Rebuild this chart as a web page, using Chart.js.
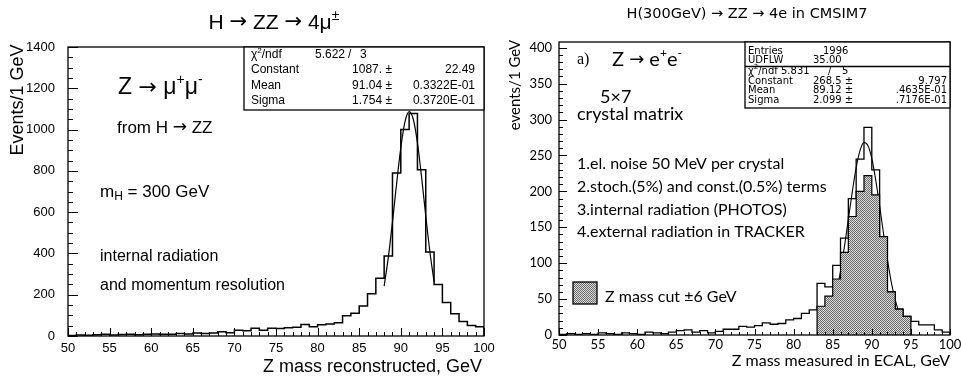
<!DOCTYPE html>
<html>
<head>
<meta charset="utf-8">
<script src="https://cdn.jsdelivr.net/npm/chart.js@4.4.1/dist/chart.umd.min.js"></script>
<style>
  body { margin: 0; background: #fff; }
  #wrap { position: relative; width: 961px; height: 378px; }
  #muChart { position: absolute; left: 0; top: 0; }
  #eChart { position: absolute; left: 490px; top: 0; }
</style>
</head>
<body>
<div id="wrap">
  <canvas id="muChart" width="500" height="378"></canvas>
  <canvas id="eChart" width="471" height="378"></canvas>
</div>
<script>
// ---- left: Z -> mu+mu- from H -> ZZ, 1 GeV bins from 50 to 100
const muBinStart = 50;
const muCounts = [
  3, 5, 4, 6, 8, 5, 7, 8, 6, 9,
  10, 8, 9, 12, 10, 14, 12, 15, 20, 16,
  28, 25, 37, 28, 38, 36, 40, 42, 56, 45,
  55, 58, 64, 98, 110, 145, 205, 280, 388, 790,
  1000, 1078, 805, 407, 250, 162, 108, 70, 51, 45
];
// gaussian fit (Constant 1087, Mean 91.04, Sigma 1.754)
const muFitX = [88, 88.5, 89, 89.5, 90, 90.5, 91, 91.5, 92, 92.5, 93, 93.5, 94];
const muFitY = [242, 381, 553, 739, 912, 1037, 1087, 1050, 936, 769, 582, 407, 262];
const muXTicks = [50, 55, 60, 65, 70, 75, 80, 85, 90, 95, 100];
const muYTicks = [0, 200, 400, 600, 800, 1000, 1200, 1400];

// ---- right: Z -> e+e- in ECAL
const eBinStart = 50;
const eCounts = [
  1, 2, 1, 2, 1, 3, 2, 1, 3, 2,
  1, 4, 3, 2, 4, 6, 7, 4, 6, 3,
  5, 8, 8, 12, 11, 13, 17, 15, 16, 21,
  23, 30, 35, 72, 67, 97, 135, 190, 245, 289,
  230, 137, 60, 36, 26, 19, 14, 14, 7, 4
];
// events passing the Z mass cut (+-6 GeV), bins 83..94
const eCutStart = 83;
const eCutCounts = [40, 54, 78, 115, 165, 200, 222, 195, 137, 60, 36, 26];
const eFitX = [85.5, 86, 86.5, 87, 87.5, 88, 88.5, 89, 89.5, 90, 90.5, 91, 91.5, 92, 92.5, 93, 93.5];
const eFitY = [61, 89, 123, 161, 199, 233, 257, 268, 264, 246, 216, 180, 141, 105, 73, 49, 30];
const eXTicks = [50, 55, 60, 65, 70, 75, 80, 85, 90, 95, 100];
const eYTicks = [0, 50, 100, 150, 200, 250, 300, 350, 400];

// histogram outline as step points (value holds until next bin edge)
function histPoints(start, counts) {
  const pts = [{ x: start, y: 0 }];
  counts.forEach((c, i) => pts.push({ x: start + i, y: c }));
  pts.push({ x: start + counts.length, y: counts[counts.length - 1] });
  pts.push({ x: start + counts.length, y: 0 });
  return pts;
}

function stipple(ctx) {
  const c = document.createElement('canvas');
  c.width = 4; c.height = 4;
  const g = c.getContext('2d');
  g.fillStyle = '#d6d6d6';
  g.fillRect(0, 0, 4, 4);
  g.fillStyle = '#707070';
  for (let i = 0; i < 4; i++) {
    for (let j = 0; j < 4; j++) {
      if ((i + j) % 2 === 0) g.fillRect(i, j, 1, 1);
    }
  }
  return ctx.createPattern(c, 'repeat');
}

// text with sub/superscripts: parts = [[text, size, dy, family], ...]
function drawRich(ctx, x, y, parts, family, align) {
  const fnt = p => p[1] + 'px "' + (p[3] || family) + '"';
  let w = 0;
  parts.forEach(p => { ctx.font = fnt(p); w += ctx.measureText(p[0]).width; });
  let cx = align === 'center' ? x - w / 2 : (align === 'right' ? x - w : x);
  ctx.textAlign = 'left';
  ctx.textBaseline = 'middle';
  parts.forEach(p => {
    ctx.font = fnt(p);
    ctx.fillText(p[0], cx, y + (p[2] || 0));
    cx += ctx.measureText(p[0]).width;
  });
}

const ARROW = 'DejaVu Sans';

function frameAndTicks(chart, t) {
  const { ctx, chartArea: a, scales: { x, y } } = chart;
  ctx.save();
  ctx.strokeStyle = '#000';
  ctx.lineWidth = 1.3;
  ctx.strokeRect(a.left, a.top, a.right - a.left, a.bottom - a.top);
  ctx.lineWidth = 1;
  ctx.beginPath();
  for (let v = x.min; v <= x.max + 1e-6; v += t.xMinor) {
    const px = Math.round(x.getPixelForValue(v)) + 0.5;
    const l = Math.round(v) % t.xMajor === 0 ? t.xLong : t.xShort;
    ctx.moveTo(px, a.bottom);
    ctx.lineTo(px, a.bottom - l);
  }
  for (let v = 0; v <= y.max + 1e-6; v += t.yMinor) {
    const py = Math.round(y.getPixelForValue(v)) + 0.5;
    const l = Math.round(v) % t.yMajor === 0 ? t.yLong : t.yShort;
    ctx.moveTo(a.left, py);
    ctx.lineTo(a.left + l, py);
  }
  ctx.stroke();
  ctx.restore();
}

function statBox(ctx, x0, y0, x1, y1) {
  ctx.fillStyle = '#fff';
  ctx.fillRect(x0, y0, x1 - x0, y1 - y0);
  ctx.strokeStyle = '#000';
  ctx.lineWidth = 1.3;
  ctx.strokeRect(x0, y0, x1 - x0, y1 - y0);
}

const muDecor = {
  id: 'muDecor',
  afterDraw(chart) {
    const ctx = chart.ctx;
    frameAndTicks(chart, { xMinor: 1, xMajor: 5, xShort: 4, xLong: 8, yMinor: 50, yMajor: 200, yShort: 5, yLong: 10 });
    ctx.save();
    ctx.fillStyle = '#000';
    const F = 'Liberation Sans';
    // title
    drawRich(ctx, 274, 23, [['H ', 21], ['\u2192', 21, 0, ARROW], [' ZZ ', 21], ['\u2192', 21, 0, ARROW], [' 4\u03bc', 21], ['\u00b1', 14, -7]], F, 'center');
    // axis titles
    drawRich(ctx, 482, 367, [['Z mass reconstructed, GeV', 18]], F, 'right');
    ctx.save();
    ctx.translate(18, 100);
    ctx.rotate(-Math.PI / 2);
    drawRich(ctx, 0, 0, [['Events/1 GeV', 18]], F, 'center');
    ctx.restore();
    // annotations
    drawRich(ctx, 118, 88, [['Z ', 23], ['\u2192', 22, 0, ARROW], [' \u03bc', 23], ['+', 14, -8], ['\u03bc', 23], ['-', 14, -8]], F, 'left');
    drawRich(ctx, 117, 128, [['from H ', 17], ['\u2192', 17, 0, ARROW], [' ZZ', 17]], F, 'left');
    drawRich(ctx, 100, 192, [['m', 17], ['H', 12, 5], [' = 300 GeV', 17]], F, 'left');
    drawRich(ctx, 100, 257, [['internal radiation', 16]], F, 'left');
    drawRich(ctx, 100, 286, [['and momentum resolution', 16]], F, 'left');
    // fit statistics box
    statBox(ctx, 244, chart.chartArea.top, chart.chartArea.right, 110);
    ctx.fillStyle = '#000';
    drawRich(ctx, 251, 55, [['\u03c7', 12], ['2', 8, -4], ['/ndf', 12]], F, 'left');
    drawRich(ctx, 315, 55, [['5.622', 12]], F, 'left');
    drawRich(ctx, 348, 55, [['/', 12]], F, 'left');
    drawRich(ctx, 360, 55, [['3', 12]], F, 'left');
    const rows = [['Constant', '1087. \u00b1', '22.49'], ['Mean', '91.04 \u00b1', '0.3322E-01'], ['Sigma', '1.754 \u00b1', '0.3720E-01']];
    rows.forEach((r, i) => {
      const yy = 70 + i * 15.3;
      drawRich(ctx, 251, yy, [[r[0], 12]], F, 'left');
      drawRich(ctx, 392, yy, [[r[1], 12]], F, 'right');
      drawRich(ctx, 475, yy, [[r[2], 12]], F, 'right');
    });
    ctx.restore();
  }
};

const eDecor = {
  id: 'eDecor',
  afterDraw(chart) {
    const ctx = chart.ctx;
    frameAndTicks(chart, { xMinor: 1, xMajor: 5, xShort: 3, xLong: 6, yMinor: 10, yMajor: 50, yShort: 4, yLong: 8 });
    ctx.save();
    ctx.fillStyle = '#000';
    const F = 'Lato';
    drawRich(ctx, 257, 14, [['H(300GeV) \u2192 ZZ \u2192 4e in CMSIM7', 14.5]], 'DejaVu Sans', 'center');
    drawRich(ctx, 460, 361, [['Z mass measured in ECAL, GeV', 16]], F, 'right');
    ctx.save();
    ctx.translate(25, 85);
    ctx.rotate(-Math.PI / 2);
    drawRich(ctx, 0, 0, [['events/1 GeV', 15]], F, 'center');
    ctx.restore();
    drawRich(ctx, 87, 60, [['a)', 16]], 'Liberation Serif', 'left');
    drawRich(ctx, 122, 60, [['Z ', 20], ['\u2192', 18, 0, ARROW], [' e', 20], ['+', 12, -7], ['e', 20], ['-', 12, -7]], F, 'left');
    drawRich(ctx, 110, 97, [['5\u00d77', 18]], F, 'left');
    drawRich(ctx, 87, 114, [['crystal matrix', 18]], F, 'left');
    const notes = ['1.el. noise 50 MeV per crystal', '2.stoch.(5%) and const.(0.5%) terms',
      '3.internal radiation (PHOTOS)', '4.external radiation in TRACKER'];
    notes.forEach((n, i) => drawRich(ctx, 87, 164 + i * 22.7, [[n, 16]], F, 'left'));
    // legend for the cut
    ctx.fillStyle = stipple(ctx);
    ctx.fillRect(83, 282, 24, 22);
    ctx.strokeStyle = '#000';
    ctx.lineWidth = 1.3;
    ctx.strokeRect(83, 282, 24, 22);
    ctx.fillStyle = '#000';
    drawRich(ctx, 115, 297, [['Z mass cut \u00b16 GeV', 16]], F, 'left');
    // stats box
    const a = chart.chartArea;
    statBox(ctx, 255, a.top, a.right, 108);
    ctx.beginPath();
    ctx.moveTo(255, 66.5);
    ctx.lineTo(a.right, 66.5);
    ctx.stroke();
    ctx.fillStyle = '#000';
    const S = 10;
    const B = 'DejaVu Sans';
    drawRich(ctx, 258, 51, [['Entries', S]], B, 'left');
    drawRich(ctx, 333, 51, [['1996', S]], B, 'left');
    drawRich(ctx, 258, 60.5, [['UDFLW', S]], B, 'left');
    drawRich(ctx, 323, 60.5, [['35.00', S]], B, 'left');
    drawRich(ctx, 258, 71.5, [['\u03c7', S], ['2', 7, -4], ['/ndf 5.831', S]], B, 'left');
    drawRich(ctx, 338, 71.5, [['/', S]], B, 'left');
    drawRich(ctx, 352, 71.5, [['5', S]], B, 'left');
    const rows = [['Constant', '268.5 \u00b1', '9.797'], ['Mean', '89.12 \u00b1', '.4635E-01'], ['Sigma', '2.099 \u00b1', '.7176E-01']];
    rows.forEach((r, i) => {
      const yy = 81 + i * 9.5;
      drawRich(ctx, 258, yy, [[r[0], S]], B, 'left');
      drawRich(ctx, 323, yy, [[r[1], S]], B, 'left');
      drawRich(ctx, 457, yy, [[r[2], S]], B, 'right');
    });
    ctx.restore();
  }
};

function axisOpts(min, max, tickList, pad, family, size, fit) {
  return {
    type: 'linear', min: min, max: max,
    grid: { display: false, drawTicks: false },
    border: { display: false },
    ticks: {
      padding: pad, color: '#000', font: { family: family, size: size },
      autoSkip: false, maxRotation: 0, includeBounds: false,
      callback: v => String(v)
    },
    afterBuildTicks: s => { s.ticks = tickList.map(v => ({ value: v })); },
    afterFit: fit
  };
}

const muCtx = document.getElementById('muChart').getContext('2d');
new Chart(muCtx, {
  type: 'line',
  data: {
    datasets: [
      {
        data: histPoints(muBinStart, muCounts),
        stepped: 'before', borderColor: '#000', borderWidth: 1.5,
        pointRadius: 0, fill: false
      },
      {
        data: muFitX.map((x, i) => ({ x: x, y: muFitY[i] })),
        borderColor: '#000', borderWidth: 1.2, pointRadius: 0, fill: false,
        cubicInterpolationMode: 'monotone'
      }
    ]
  },
  options: {
    responsive: false, animation: false, devicePixelRatio: 1,
    layout: { padding: { top: 47, right: 16, left: 0, bottom: 0 } },
    plugins: { legend: { display: false }, tooltip: { enabled: false } },
    scales: {
      x: axisOpts(50, 100, muXTicks, 5, 'Liberation Sans', 13, s => { s.height = 42; s.paddingLeft = 0; s.paddingRight = 0; }),
      y: axisOpts(0, 1400, muYTicks, 13, 'Liberation Sans', 13, s => { s.width = 68; s.paddingTop = 0; s.paddingBottom = 0; })
    }
  },
  plugins: [muDecor]
});

const eCtx = document.getElementById('eChart').getContext('2d');
new Chart(eCtx, {
  type: 'line',
  data: {
    datasets: [
      {
        data: histPoints(eCutStart, eCutCounts),
        stepped: 'before', borderColor: '#000', borderWidth: 1.2,
        backgroundColor: stipple(eCtx), pointRadius: 0, fill: 'origin'
      },
      {
        data: histPoints(eBinStart, eCounts),
        stepped: 'before', borderColor: '#000', borderWidth: 1.3,
        pointRadius: 0, fill: false
      },
      {
        data: eFitX.map((x, i) => ({ x: x, y: eFitY[i] })),
        borderColor: '#000', borderWidth: 1.1, pointRadius: 0, fill: false,
        cubicInterpolationMode: 'monotone'
      }
    ]
  },
  options: {
    responsive: false, animation: false, devicePixelRatio: 1,
    layout: { padding: { top: 42, right: 11, left: 0, bottom: 0 } },
    plugins: { legend: { display: false }, tooltip: { enabled: false } },
    scales: {
      x: axisOpts(50, 100, eXTicks, 2, 'Lato', 13, s => { s.height = 43; s.paddingLeft = 0; s.paddingRight = 0; }),
      y: axisOpts(0, 408, eYTicks, 7, 'Lato', 13, s => { s.width = 69; s.paddingTop = 0; s.paddingBottom = 0; })
    }
  },
  plugins: [eDecor]
});
</script>
</body>
</html>
